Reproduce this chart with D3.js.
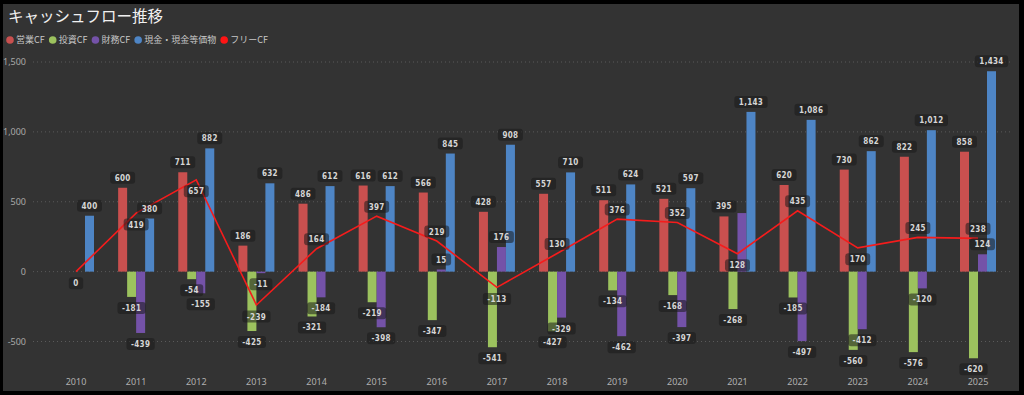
<!DOCTYPE html>
<html><head><meta charset="utf-8">
<script src="https://cdn.jsdelivr.net/npm/d3@7"></script>
<style>html,body{margin:0;padding:0;background:#000;}svg{display:block;}</style>
</head><body><svg id="c" width="1024" height="395"></svg>
<script>
const years = [2010,2011,2012,2013,2014,2015,2016,2017,2018,2019,2020,2021,2022,2023,2024,2025];
const operatingCF = [null,600,711,186,486,616,566,428,557,511,521,395,620,730,822,858];
const investingCF = [null,-181,-54,-425,-321,-219,-347,-541,-427,-134,-168,-268,-185,-560,-576,-620];
const financingCF = [null,-439,-155,-11,-184,-398,15,176,-329,-462,-397,419,-497,-412,-120,124];
const cashBalance = [400,380,882,632,612,612,845,908,710,624,597,1143,1086,862,1012,1434];
const freeCF = [0,419,657,-239,164,397,219,-113,130,376,352,128,435,170,245,238];
const yTicks = [-500,0,500,1000,1500];
const seriesNames = ["営業CF","投資CF","財務CF","現金・現金等価物"];
const lineName = "フリーCF";
const title = "キャッシュフロー推移";
// label placement for the free-CF line ("a" above, "b" below)
const freeLabelSide = ["b","b","b","b","a","a","a","b","a","a","a","b","a","b","a","a"];

const colors = ["#c9504f","#9cc25e","#7452a8","#4e85c5"];
const lineColor = "#f51c1c";
const svg = d3.select("#c");
svg.append("rect").attr("x",3).attr("y",4).attr("width",1016).attr("height",387).attr("fill","#333333");

svg.append("text").attr("x",8).attr("y",22).text(title)
  .attr("fill","#f0f0f0").attr("font-size",15.5).attr("font-family","'Noto Sans CJK JP'");

const fmt = v => d3.format(",")(v).replace("\u2212","-");

// legend
const legendItems = seriesNames.map((n,i)=>({n,c:colors[i]})).concat([{n:lineName,c:"#ff1414"}]);
let lx = 10;
legendItems.forEach(it=>{
  svg.append("circle").attr("cx",lx).attr("cy",40).attr("r",3.8).attr("fill",it.c);
  const t = svg.append("text").attr("x",lx+6).attr("y",43.2).text(it.n)
    .attr("fill","#c8c8c8").attr("font-size",9).attr("font-family","'Noto Sans CJK JP'");
  lx += 6 + t.node().getComputedTextLength() + 8;
});

const y = d3.scaleLinear().domain([-500,1500]).range([341.5,62]);
const x = d3.scalePoint().domain(years).range([76,978]);
const inner = d3.scaleBand().domain(d3.range(4)).range([-18,18]);

// grid + y axis
const g = svg.append("g");
yTicks.forEach(t=>{
  g.append("line").attr("x1",33).attr("x2",1013).attr("y1",y(t)).attr("y2",y(t))
    .attr("stroke","#5a5a5a").attr("stroke-width",1).attr("stroke-dasharray","1,3");
  g.append("text").attr("x",26).attr("y",y(t)+3.2).attr("text-anchor","end")
    .text(fmt(t)).attr("fill","#a8a8a8").attr("font-size",9).attr("font-family","'Noto Sans'");
});
years.forEach(yr=>{
  g.append("text").attr("x",x(yr)).attr("y",384.5).attr("text-anchor","middle")
    .text(yr).attr("fill","#b0b0b0").attr("font-size",9).attr("font-family","'Noto Sans'");
});

// bars
const seriesData = [operatingCF,investingCF,financingCF,cashBalance];
const bars = [];
seriesData.forEach((arr,si)=>{
  arr.forEach((v,i)=>{ if(v!==null) bars.push({si,i,v}); });
});
svg.append("g").selectAll("rect").data(bars).join("rect")
  .attr("x",d=>x(years[d.i])+inner(d.si))
  .attr("width",inner.bandwidth())
  .attr("y",d=>Math.min(y(d.v),y(0)))
  .attr("height",d=>Math.abs(y(d.v)-y(0)))
  .attr("fill",d=>colors[d.si]);

// line
svg.append("path").datum(freeCF.map((v,i)=>[x(years[i]),y(v)]))
  .attr("d",d3.line()).attr("fill","none").attr("stroke",lineColor).attr("stroke-width",1.6);

// labels
const lg = svg.append("g");
function addLabel(cx,cy,txt){
  const grp = lg.append("g");
  const r = grp.append("rect");
  const t = grp.append("text").attr("x",cx).attr("y",cy+3).attr("text-anchor","middle")
    .text(txt).attr("fill","#d6d6d6").attr("font-size",8).attr("font-weight","bold")
    .attr("letter-spacing",0.3)
    .attr("font-family","'DejaVu Sans Condensed','DejaVu Sans'");
  const w = t.node().getComputedTextLength()+9;
  r.attr("x",cx-w/2).attr("y",cy-6).attr("width",w).attr("height",12).attr("rx",3)
    .attr("fill","rgba(25,25,25,0.55)");
  return {x0:cx-w/2,x1:cx+w/2,y0:cy-6,y1:cy+6};
}
const placed = [];
const barOrder = [];
years.forEach((yr,i)=>{ for(let si=0;si<4;si++){ const v=seriesData[si][i]; if(v!==null) barOrder.push({si,i,v}); }});
barOrder.forEach(d=>{
  const cx = x(years[d.i])+inner(d.si)+inner.bandwidth()/2;
  const cy = d.v>=0 ? y(d.v)-10 : y(d.v)+11;
  const tw = String(fmt(d.v)).length*4.6+9;
  const box = {x0:cx-tw/2,x1:cx+tw/2,y0:cy-6,y1:cy+6};
  const hit = placed.some(b=> b.i===d.i && box.x0<b.x1-0.5 && box.x1>b.x0+0.5 && box.y0<b.y1-0.5 && box.y1>b.y0+0.5);
  if(hit) return;
  const bb = addLabel(cx,cy,fmt(d.v)); bb.i=d.i; placed.push(bb);
});
freeCF.forEach((v,i)=>{
  const cx = x(years[i]);
  const cy = freeLabelSide[i]==="a" ? y(v)-9.5 : y(v)+11.5;
  addLabel(cx,cy,fmt(v));
});
</script></body></html>
